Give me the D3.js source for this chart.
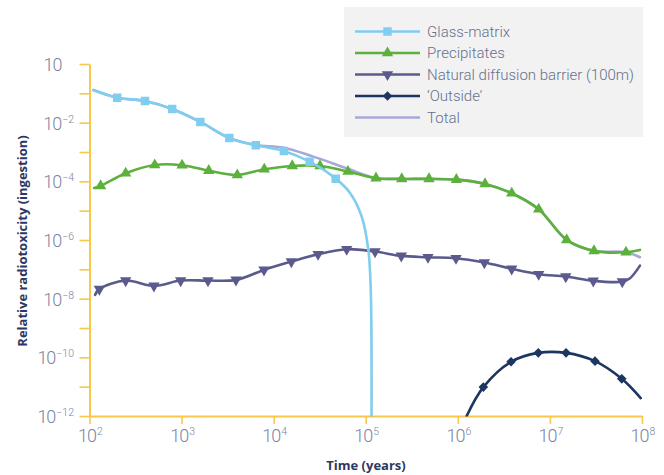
<!DOCTYPE html>
<html><head><meta charset="utf-8">
<script src="https://cdn.jsdelivr.net/npm/d3@7"></script>
<style>
html,body{margin:0;padding:0;background:#fff;}
svg{display:block;}
</style></head>
<body><svg id="c" width="664" height="475"></svg>
<script>
// ---------- data (time in years, relative radiotoxicity) ----------
const seriesNames = ["Glass-matrix", "Precipitates", "Natural diffusion barrier (100m)", "\u2018Outside\u2019", "Total"];

const glassTime   = [110, 200, 400, 790, 1600, 3300, 6400, 12900, 24600, 47200, 67500, 90400, 106700, 113300, 115600];
const glassValue  = [0.130, 0.0711, 0.0548, 0.0293, 0.01057, 0.00301, 0.0017, 0.001087, 4.69e-4, 1.236e-4, 4.03e-5, 6.3e-6, 4.6e-7, 2.0e-8, 1e-12];
const glassMarker = [0, 1, 1, 1, 1, 1, 1, 1, 1, 1, 0, 0, 0, 0, 0];

const precTime   = [112, 132, 247, 511, 1012, 1972, 4027, 7907, 15920, 31840, 64120, 129100, 246000, 486400, 963800, 1.972e6, 3.846e6, 7.55e6, 1.52e7, 3.013e7, 6.70e7, 9.5e7];
const precValue  = [5.96e-5, 6.97e-5, 1.89e-4, 3.62e-4, 3.54e-4, 2.32e-4, 1.65e-4, 2.58e-4, 3.35e-4, 3.35e-4, 2.17e-4, 1.28e-4, 1.21e-4, 1.21e-4, 1.14e-4, 8.15e-5, 3.94e-5, 1.12e-5, 1.01e-6, 4.26e-7, 3.84e-7, 4.6e-7];
const precMarker = [0, 1, 1, 1, 1, 1, 1, 1, 1, 1, 1, 1, 1, 1, 1, 1, 1, 1, 1, 1, 1, 0];

const natTime   = [115, 128, 247, 501, 977, 1936, 3899, 7852, 15560, 30340, 62090, 126200, 243200, 474200, 955000, 1.941e6, 3.846e6, 7.55e6, 1.486e7, 2.958e7, 6.11e7, 7.41e7, 9.5e7];
const natValue  = [1.35e-8, 2.11e-8, 4.14e-8, 2.73e-8, 4.14e-8, 4.14e-8, 4.38e-8, 9.57e-8, 1.84e-7, 3.28e-7, 4.86e-7, 4.03e-7, 2.87e-7, 2.59e-7, 2.40e-7, 1.70e-7, 1.04e-7, 6.84e-8, 5.66e-8, 4.04e-8, 3.83e-8, 5.0e-8, 1.34e-7];
const natMarker = [0, 1, 1, 1, 1, 1, 1, 1, 1, 1, 1, 1, 1, 1, 1, 1, 1, 1, 1, 1, 1, 0, 0];

const outTime   = [1.247e6, 1.892e6, 3.784e6, 7.48e6, 1.496e7, 3.09e7, 6.03e7, 9.68e7];
const outValue  = [1e-12, 9.66e-12, 7.03e-11, 1.42e-10, 1.42e-10, 7.41e-11, 1.85e-11, 4.07e-12];
const outMarker = [0, 1, 1, 1, 1, 1, 1, 0];

const totalTime  = [110, 200, 400, 790, 1600, 3300, 6400, 12900, 26900, 62100, 129100, 246000, 486400, 963800, 1.972e6, 3.846e6, 7.55e6, 1.52e7, 3.013e7, 6.70e7, 9.5e7];
const totalValue = [0.130, 0.0711, 0.0548, 0.0293, 0.01057, 0.00301, 0.00174, 0.001406, 6.95e-4, 2.79e-4, 1.28e-4, 1.21e-4, 1.21e-4, 1.14e-4, 8.15e-5, 3.94e-5, 1.12e-5, 1.01e-6, 4.26e-7, 3.84e-7, 2.59e-7];

const xTickValues = [1e2, 1e3, 1e4, 1e5, 1e6, 1e7, 1e8];
const xTickExponents = ["2", "3", "4", "5", "6", "7", "8"];
const yTickValues = [1, 1e-1, 1e-2, 1e-3, 1e-4, 1e-5, 1e-6, 1e-7, 1e-8, 1e-9, 1e-10, 1e-11, 1e-12];
const yLabelValues = [1, 1e-2, 1e-4, 1e-6, 1e-8, 1e-10, 1e-12];
const yLabelExponents = ["", "\u22122", "\u22124", "\u22126", "\u22128", "\u221210", "\u221212"];

const xTitle = "Time (years)";
const yTitle = "Relative radiotoxicity (ingestion)";

// ---------- layout ----------
const svg = d3.select("#c");
const x = d3.scaleLog().domain([1e2, 1e8]).range([89.5, 642]);
const y = d3.scaleLog().domain([1e-12, 1]).range([416, 64]);

const axisColor = "#f9c74a";
const tickTextColor = "#7d849f";
const titleColor = "#2c3862";
const fontMain = "Roboto, 'Open Sans', sans-serif";

const colors = {
  glass: "#7fcdef",
  prec: "#5cb03c",
  nat: "#5b5a8d",
  out: "#1d3561",
  total: "#a7a8d8"
};

// clip
svg.append("clipPath").attr("id", "plotclip").append("rect")
  .attr("x", 85).attr("y", 40).attr("width", 570).attr("height", 376.5);

// ---------- axes ----------
const gx = svg.append("g").attr("transform", "translate(0,416)")
  .call(d3.axisBottom(x).tickValues(xTickValues).tickFormat("").tickSize(8).tickSizeOuter(0));
const gy = svg.append("g").attr("transform", "translate(89.5,0)")
  .call(d3.axisLeft(y).tickValues(yTickValues).tickFormat("").tickSize(10).tickSizeOuter(0));
[gx, gy].forEach(g => {
  g.select(".domain").attr("stroke", axisColor).attr("stroke-width", 2);
  g.selectAll(".tick line").attr("stroke", axisColor).attr("stroke-width", 1.6);
});

// x tick labels
xTickValues.forEach((v, i) => {
  const t = svg.append("text")
    .attr("x", x(v) + 1).attr("y", 442.3)
    .attr("text-anchor", "middle")
    .attr("font-family", fontMain).attr("font-weight", 300)
    .attr("fill", tickTextColor).attr("font-size", 18).attr("letter-spacing", -1);
  t.append("tspan").text("10");
  t.append("tspan").attr("font-size", 10.5).attr("dy", -7).attr("dx", 1).attr("letter-spacing", 0).text(xTickExponents[i]);
});

// y tick labels
yLabelValues.forEach((v, i) => {
  const t = svg.append("text")
    .attr("x", yLabelExponents[i] ? 74 : 61.5).attr("y", y(v) + 7)
    .attr("text-anchor", "end")
    .attr("font-family", fontMain).attr("font-weight", 300)
    .attr("fill", tickTextColor).attr("font-size", 18).attr("letter-spacing", -1);
  t.append("tspan").text("10");
  if (yLabelExponents[i]) t.append("tspan").attr("font-size", 10.5).attr("dy", -7).attr("dx", 1).attr("letter-spacing", 0).text(yLabelExponents[i]);
});

// titles
svg.append("text").attr("x", 366).attr("y", 469.5).attr("text-anchor", "middle")
  .attr("font-family", "'Open Sans', sans-serif").attr("font-weight", 700).attr("font-size", 13)
  .attr("fill", titleColor).text(xTitle);
svg.append("text").attr("transform", "translate(27,241) rotate(-90)").attr("text-anchor", "middle")
  .attr("font-family", "'Open Sans', sans-serif").attr("font-weight", 700).attr("font-size", 13)
  .attr("fill", titleColor).text(yTitle);

// ---------- series ----------
const line = d3.line().x(d => x(d.t)).y(d => y(d.v)).curve(d3.curveCatmullRom.alpha(0.5));
function build(times, values, marks) {
  return times.map((t, i) => ({ t, v: values[i], m: marks ? marks[i] : 0 }));
}
const series = [
  { key: "total", data: build(totalTime, totalValue, null), color: colors.total, sym: null },
  { key: "out", data: build(outTime, outValue, outMarker), color: colors.out, sym: "diamond" },
  { key: "nat", data: build(natTime, natValue, natMarker), color: colors.nat, sym: "down" },
  { key: "prec", data: build(precTime, precValue, precMarker), color: colors.prec, sym: "up" },
  { key: "glass", data: build(glassTime, glassValue, glassMarker), color: colors.glass, sym: "square" }
];

function symbolPath(sym) {
  if (sym === "square") return { d: d3.symbol(d3.symbolSquare, 72)(), rot: 0 };
  if (sym === "up") return { d: d3.symbol(d3.symbolTriangle, 56)(), rot: 0 };
  if (sym === "down") return { d: d3.symbol(d3.symbolTriangle, 56)(), rot: 180 };
  if (sym === "diamond") return { d: d3.symbol(d3.symbolSquare, 46)(), rot: 45 };
  return null;
}

const plot = svg.append("g").attr("clip-path", "url(#plotclip)");
series.forEach(s => {
  plot.append("path").datum(s.data).attr("d", line)
    .attr("fill", "none").attr("stroke", s.color).attr("stroke-width", 2.6)
    .attr("stroke-linejoin", "round").attr("stroke-linecap", "round");
  const sp = symbolPath(s.sym);
  if (sp) {
    plot.selectAll(null).data(s.data.filter(d => d.m)).enter().append("path")
      .attr("d", sp.d).attr("fill", s.color)
      .attr("transform", d => `translate(${x(d.t)},${y(d.v)}) rotate(${sp.rot})`);
  }
});

// ---------- legend ----------
const leg = svg.append("g");
leg.append("rect").attr("x", 344).attr("y", 7).attr("width", 299).attr("height", 130).attr("fill", "#f2f2f2");
const legendOrder = ["glass", "prec", "nat", "out", "total"];
legendOrder.forEach((k, i) => {
  const s = series.find(d => d.key === k);
  const yy = 31.5 + i * 21.5;
  leg.append("line").attr("x1", 355).attr("x2", 420).attr("y1", yy).attr("y2", yy)
    .attr("stroke", s.color).attr("stroke-width", 2.6);
  const sp = symbolPath(s.sym);
  if (sp) leg.append("path").attr("d", sp.d).attr("fill", s.color)
    .attr("transform", `translate(387.5,${yy}) rotate(${sp.rot})`);
  leg.append("text").attr("x", 427).attr("y", yy + 5.3)
    .attr("font-family", fontMain).attr("font-weight", 300).attr("font-size", 15)
    .attr("fill", "#67708d").text(seriesNames[i]);
});
</script>
</body></html>
